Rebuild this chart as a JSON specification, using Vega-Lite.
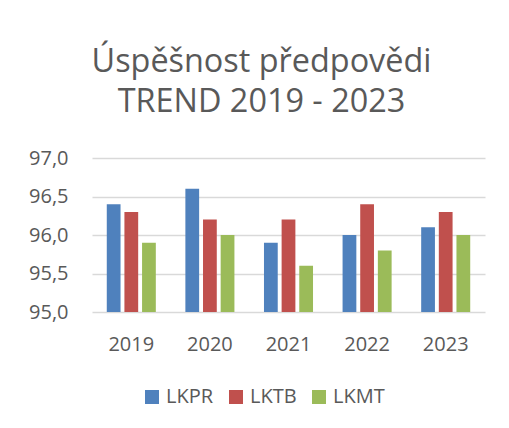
{
  "$schema": "https://vega.github.io/schema/vega-lite/v6.json",
  "autosize": "none",
  "width": 393,
  "height": 154,
  "padding": {"left": 92, "top": 158, "right": 24, "bottom": 116},
  "background": "white",
  "title": {
    "text": ["Úspěšnost předpovědi", "TREND 2019 - 2023"],
    "font": "Open Sans",
    "fontSize": 32.4,
    "fontWeight": "normal",
    "color": "#595959",
    "lineHeight": 40,
    "anchor": "middle",
    "frame": "group",
    "dx": -27,
    "offset": 30
  },
  "data": {
    "values": [
      {"year": "2019", "station": "LKPR", "value": 96.4},
      {"year": "2019", "station": "LKTB", "value": 96.3},
      {"year": "2019", "station": "LKMT", "value": 95.9},
      {"year": "2020", "station": "LKPR", "value": 96.6},
      {"year": "2020", "station": "LKTB", "value": 96.2},
      {"year": "2020", "station": "LKMT", "value": 96.0},
      {"year": "2021", "station": "LKPR", "value": 95.9},
      {"year": "2021", "station": "LKTB", "value": 96.2},
      {"year": "2021", "station": "LKMT", "value": 95.6},
      {"year": "2022", "station": "LKPR", "value": 96.0},
      {"year": "2022", "station": "LKTB", "value": 96.4},
      {"year": "2022", "station": "LKMT", "value": 95.8},
      {"year": "2023", "station": "LKPR", "value": 96.1},
      {"year": "2023", "station": "LKTB", "value": 96.3},
      {"year": "2023", "station": "LKMT", "value": 96.0}
    ]
  },
  "mark": {"type": "bar", "clip": true},
  "encoding": {
    "x": {
      "field": "year",
      "type": "nominal",
      "scale": {"paddingInner": 0.376, "paddingOuter": 0.188},
      "axis": {
        "title": null,
        "labelAngle": 0,
        "ticks": false,
        "domain": false,
        "labelFont": "Open Sans",
        "labelFontSize": 20,
        "labelColor": "#595959",
        "labelPadding": 22
      }
    },
    "xOffset": {
      "field": "station",
      "sort": ["LKPR", "LKTB", "LKMT"],
      "scale": {"paddingInner": 0.22}
    },
    "y": {
      "field": "value",
      "type": "quantitative",
      "scale": {"domain": [95, 97], "zero": false, "nice": false},
      "axis": {
        "title": null,
        "values": [95, 95.5, 96, 96.5, 97],
        "labelExpr": "replace(format(datum.value, '.1f'), '.', ',')",
        "ticks": false,
        "domain": false,
        "grid": true,
        "gridColor": "#d9d9d9",
        "gridWidth": 1.5,
        "labelFont": "Open Sans",
        "labelFontSize": 20,
        "labelColor": "#595959",
        "labelPadding": 24
      }
    },
    "color": {
      "field": "station",
      "type": "nominal",
      "sort": ["LKPR", "LKTB", "LKMT"],
      "scale": {"domain": ["LKPR", "LKTB", "LKMT"], "range": ["#4F81BD", "#C0504D", "#9BBB59"]},
      "legend": {
        "title": null,
        "orient": "none",
        "direction": "horizontal",
        "legendX": 50,
        "legendY": 229,
        "symbolType": "square",
        "symbolSize": 196,
        "symbolStrokeWidth": 0,
        "labelFont": "Open Sans",
        "labelFontSize": 20,
        "labelColor": "#595959",
        "labelOffset": 4,
        "columnPadding": 12,
        "padding": 0
      }
    }
  },
  "config": {
    "view": {"stroke": null}
  }
}
